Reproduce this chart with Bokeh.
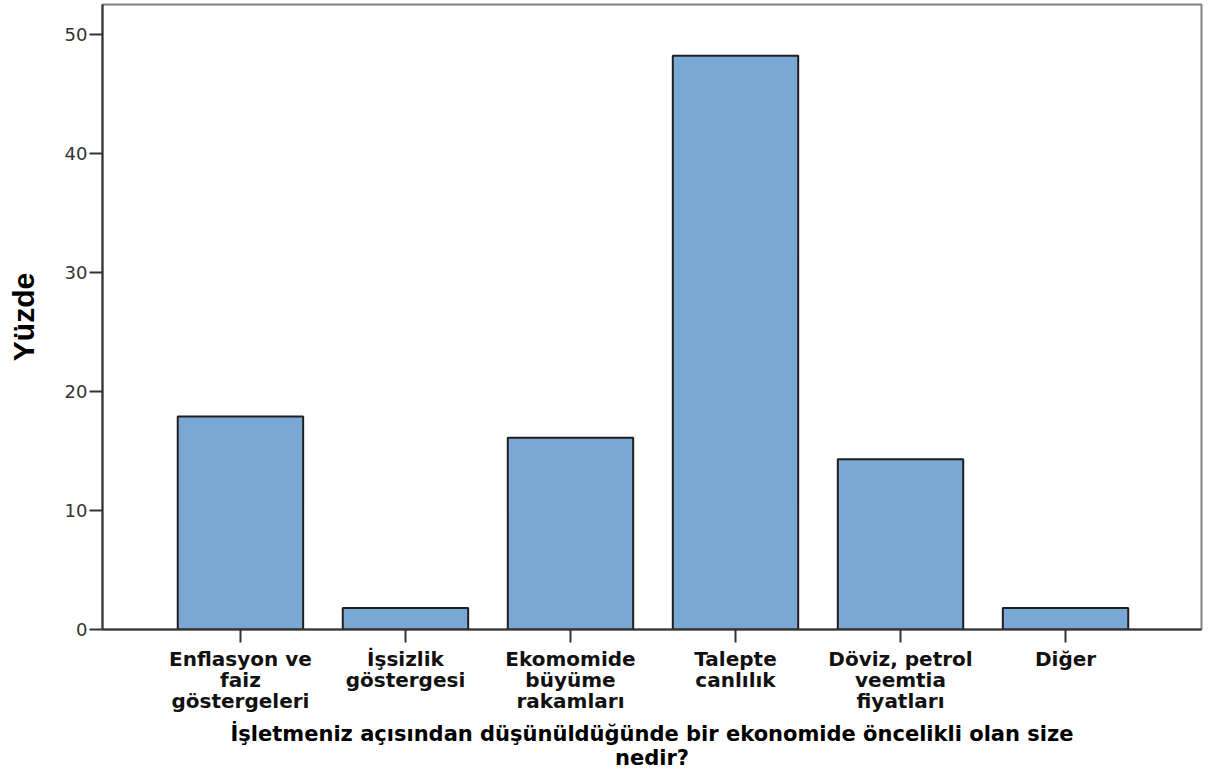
from bokeh.plotting import figure
from bokeh.models import FixedTicker, Range1d, ColumnDataSource
from bokeh.embed import file_html
from bokeh.resources import INLINE

categories = [
    "Enflasyon ve\nfaiz\ngöstergeleri",
    "İşsizlik\ngöstergesi",
    "Ekomomide\nbüyüme\nrakamları",
    "Talepte\ncanlılık",
    "Döviz, petrol\nveemtia\nfiyatları",
    "Diğer",
]
values = [17.9, 1.8, 16.1, 48.2, 14.3, 1.8]
y_ticks = [0, 10, 20, 30, 40, 50]

positions = list(range(1, len(categories) + 1))
src = ColumnDataSource(dict(x=positions, top=values))

p = figure(width=1208, height=776, output_backend="svg", toolbar_location=None,
           x_range=Range1d(0.164, 6.824), y_range=Range1d(0, 52.5),
           min_border_left=102, min_border_right=7, min_border_top=4, min_border_bottom=147)

p.vbar(x="x", top="top", bottom=0, width=0.76, source=src,
       fill_color="#7AA8D5", line_color="#1f1f1f", line_width=2)

p.xgrid.visible = False
p.ygrid.visible = False
p.outline_line_color = "#808080"
p.outline_line_width = 2

p.xaxis.ticker = FixedTicker(ticks=positions)
p.xaxis.major_label_overrides = {i: c for i, c in zip(positions, categories)}
p.xaxis.major_label_text_font = "DejaVu Sans"
p.xaxis.major_label_text_font_style = "bold"
p.xaxis.major_label_text_font_size = "20px"
p.xaxis.major_label_text_color = "#111111"
p.xaxis.major_label_text_line_height = 0.88
p.xaxis.major_label_standoff = 4
p.xaxis.major_tick_out = 13
p.xaxis.major_tick_in = 0
p.xaxis.minor_tick_line_color = None
p.xaxis.axis_line_color = "#333333"
p.xaxis.axis_line_width = 2
p.xaxis.major_tick_line_color = "#333333"
p.xaxis.major_tick_line_width = 2
p.xaxis.axis_label = "İşletmeniz açısından düşünüldüğünde bir ekonomide öncelikli olan size\nnedir?"
p.xaxis.axis_label_text_font = "DejaVu Sans"
p.xaxis.axis_label_text_font_style = "bold"
p.xaxis.axis_label_text_font_size = "21px"
p.xaxis.axis_label_text_color = "#000000"
p.xaxis.axis_label_text_line_height = 1.0
p.xaxis.axis_label_standoff = 6

p.yaxis.ticker = FixedTicker(ticks=y_ticks)
p.yaxis.major_label_text_font = "DejaVu Sans"
p.yaxis.major_label_text_font_size = "18px"
p.yaxis.major_label_text_color = "#333333"
p.yaxis.major_label_standoff = 2
p.yaxis.major_tick_out = 13
p.yaxis.major_tick_in = 0
p.yaxis.minor_tick_line_color = None
p.yaxis.axis_line_color = "#333333"
p.yaxis.axis_line_width = 2
p.yaxis.major_tick_line_color = "#333333"
p.yaxis.major_tick_line_width = 2
p.yaxis.axis_label = "Yüzde"
p.yaxis.axis_label_text_font = "Liberation Sans"
p.yaxis.axis_label_text_font_style = "bold"
p.yaxis.axis_label_text_font_size = "30px"
p.yaxis.axis_label_text_color = "#000000"
p.yaxis.axis_label_standoff = 22

open("out.html", "w").write(file_html(p, INLINE))
